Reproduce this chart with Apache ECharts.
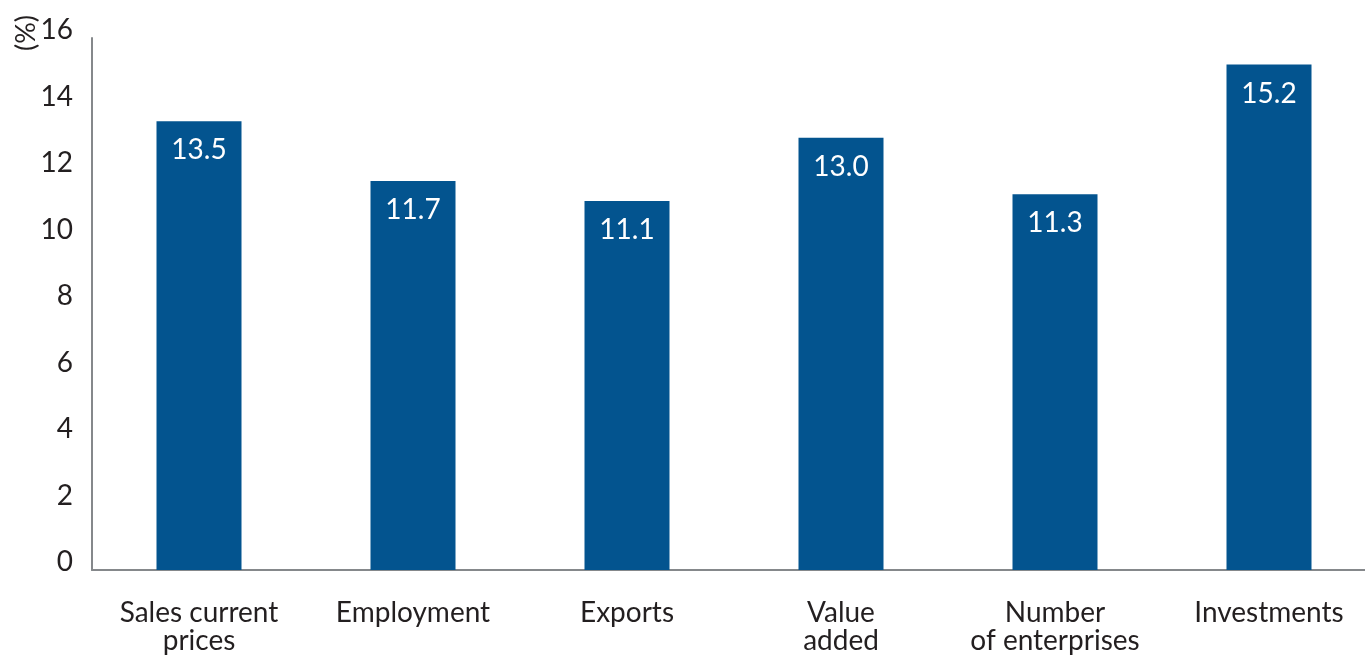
<!DOCTYPE html>
<html>
<head>
<meta charset="utf-8">
<title>Growth by indicator</title>
<script src="https://cdn.jsdelivr.net/npm/echarts@6/dist/echarts.min.js"></script>
<style>
  html, body { margin: 0; padding: 0; background: #ffffff; overflow: hidden; }
  /* the category band runs a little past the right edge of the page */
  #chart { width: 1376px; height: 655px; }
</style>
</head>
<body>
<div id="chart"></div>
<script>
// Indicator names shown under each bar
const categories = [
  'Sales current\nprices',
  'Employment',
  'Exports',
  'Value\nadded',
  'Number\nof enterprises',
  'Investments'
];
// Growth rates in percent
const growthValues = [13.5, 11.7, 11.1, 13.0, 11.3, 15.2];
// Value axis settings
const yMin = 0;
const yMax = 16;
const yStep = 2;

const FONT = 'Lato, "Open Sans", sans-serif';
const TEXT = '#231f20';
const BAR = '#03548f';
const AXIS = '#85888b';

const chart = echarts.init(document.getElementById('chart'), null, { renderer: 'canvas' });

chart.setOption({
  animation: false,
  backgroundColor: '#ffffff',
  grid: { left: 92, top: 38, bottom: 84, right: 0, containLabel: false },
  graphic: [{
    type: 'text',
    x: 26,
    y: 33,
    rotation: Math.PI / 2,
    style: { text: '(%)', font: '27px ' + FONT, fill: TEXT, align: 'center', verticalAlign: 'middle' }
  }],
  xAxis: {
    type: 'category',
    data: categories,
    axisLine: { show: true, lineStyle: { color: AXIS, width: 2 } },
    axisTick: { show: false },
    axisLabel: {
      interval: 0,
      color: TEXT,
      fontFamily: FONT,
      fontSize: 28,
      lineHeight: 28,
      margin: 29
    }
  },
  yAxis: {
    type: 'value',
    min: yMin,
    max: yMax,
    interval: yStep,
    axisLine: { show: true, lineStyle: { color: AXIS, width: 2 } },
    axisTick: { show: false },
    splitLine: { show: false },
    axisLabel: {
      color: TEXT,
      fontFamily: FONT,
      fontSize: 28,
      margin: 19,
      verticalAlign: 'bottom',
      lineHeight: 16
    }
  },
  series: [{
    type: 'bar',
    data: growthValues,
    barWidth: 85,
    itemStyle: { color: BAR },
    label: {
      show: true,
      position: 'insideTop',
      distance: 15,
      color: '#ffffff',
      fontFamily: FONT,
      fontSize: 28,
      formatter: p => p.value.toFixed(1)
    }
  }]
});
</script>
</body>
</html>
